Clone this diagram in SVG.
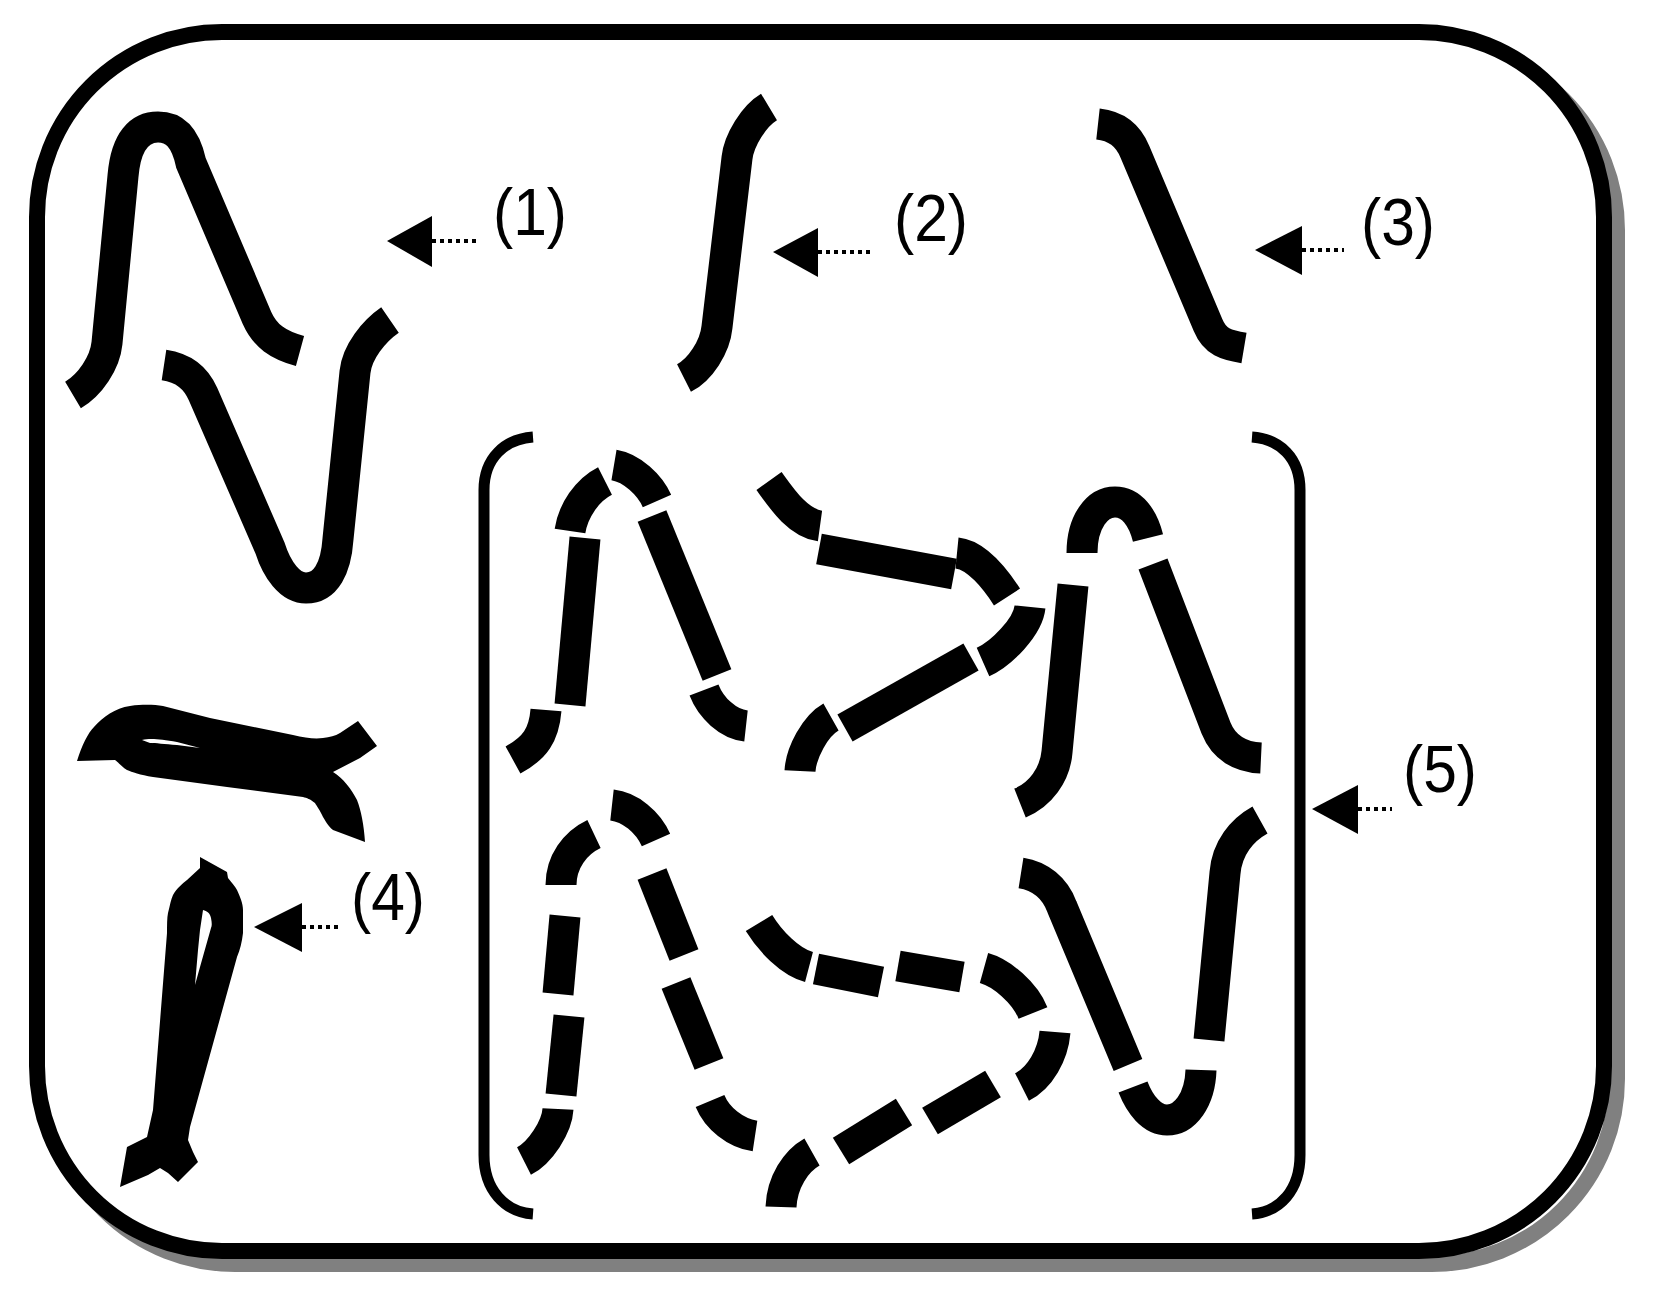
<svg xmlns="http://www.w3.org/2000/svg" width="1653" height="1309" viewBox="0 0 1653 1309">
<style>
.s{fill:none;stroke:#000;stroke-width:31;stroke-linecap:butt;stroke-linejoin:miter}
.br{fill:none;stroke:#000;stroke-width:11;stroke-linecap:butt}
.f{fill:#000;stroke:none}
.w{fill:#fff;stroke:none}
.dot{fill:none;stroke:#000;stroke-width:4;stroke-dasharray:4 4}
.t{font-family:"Liberation Sans",Arial,sans-serif;font-size:66px;fill:#000}
</style>
<rect width="1653" height="1309" fill="#fff"/>
<g id="frame">
<rect x="50" y="45" width="1567" height="1219" rx="185" ry="185" fill="none" stroke="#808080" stroke-width="16"/>
<rect x="37" y="32" width="1567" height="1219" rx="185" ry="185" fill="#fff" stroke="#000" stroke-width="16"/>
</g>
<g id="figure1">
<path class="s" d="M73,395 C90,385 105,363 107,343 L123,176 C126,140 140,127 158,127 C176,127 186,140 191,163 L257,318 C265,336 278,345 300,351"/>
<path class="s" d="M164,365 C184,368 196,378 203,394 L270,548 C277,570 290,588 306,588 C326,588 336,568 338,539 L355,372 C357,352 374,331 390,320"/>
</g>
<g id="figure2">
<path class="s" d="M684,378 C700,370 715,347 717,327 L737,158 C739,140 754,116 769,107"/>
</g>
<g id="figure3">
<path class="s" d="M1098,124 C1116,126 1128,135 1135,152 L1208,325 C1215,342 1226,345 1244,348"/>
</g>
<g id="figure4">
<path class="f" d="M77,761 C82,745 88,733 94,727 C103,717 115,708 130,706 C145,704 155,705 163,706 L210,718 L293,735 C305,738 315,739 323,738 C330,737 335,736 340,733 L358,721 L377,746 L360,758 L333,772 C343,778 352,790 357,800 C361,810 364,825 365,842 L333,830 C328,826 325,820 323,817 C320,810 316,805 315,803 C310,799 307,798 303,797 L227,787 L153,777 C140,775 132,772 127,770 C122,767 118,762 115,760 Z"/>
<path class="w" d="M142,740 C150,738 160,739 177,742 L200,748 L177,745 C165,744 155,743 150,743 Z"/>
<path class="f" d="M200,857 L227,872 L228,878 C232,883 235,886 237,890 C240,897 243,903 243,910 L243,933 C242,942 240,950 237,957 L190,1127 L188,1140 L193,1152 L198,1162 L178,1182 L168,1173 L160,1168 L148,1175 L120,1187 L127,1147 L147,1137 L153,1110 L167,933 C167,925 167,918 168,913 C170,905 171,899 173,895 C177,888 182,884 187,880 L200,868 Z"/>
<path class="w" d="M203,910 C207,911 210,913 211,918 C212,923 212,926 211,928 L200,967 L195,985 L198,950 L200,930 Z"/>
</g>
<g id="figure5">
<path class="br" d="M533,437 C505,439 484,458 484,490 L484,1155 C484,1190 505,1212 533,1214"/>
<path class="br" d="M1252,437 C1280,439 1300,458 1300,490 L1300,1155 C1300,1190 1280,1212 1252,1214"/>
<path class="s" d="M513,760 C535,748 544,735 546,710"/>
<path class="s" d="M570,705 L585,538"/>
<path class="s" d="M570,531 C573,511 587,490 605,481"/>
<path class="s" d="M614,465 C632,468 650,485 657,501"/>
<path class="s" d="M652,516 L717,675"/>
<path class="s" d="M704,690 C711,708 728,724 746,726"/>
<path class="s" d="M769,481 C782,499 798,523 820,526"/>
<path class="s" d="M819,549 L954,574"/>
<path class="s" d="M957,553 C977,555 996,580 1007,597"/>
<path class="s" d="M1030,607 C1028,627 1001,654 983,662"/>
<path class="s" d="M971,657 L845,728"/>
<path class="s" d="M831,717 C815,726 801,753 800,771"/>
<path class="s" d="M1082,553 C1082,522 1097,502 1115,502 C1132,502 1143,518 1148,538"/>
<path class="s" d="M1073,585 L1057,752 C1055,775 1040,795 1020,803"/>
<path class="s" d="M1153,564 L1216,728 C1224,748 1240,757 1261,758"/>
<path class="s" d="M524,1161 C540,1153 557,1127 558,1109"/>
<path class="s" d="M561,1095 L569,1016"/>
<path class="s" d="M558,994 L565,916"/>
<path class="s" d="M561,885 C561,862 575,843 594,834"/>
<path class="s" d="M612,805 C630,807 648,822 656,840"/>
<path class="s" d="M652,874 L684,955"/>
<path class="s" d="M676,983 L709,1064"/>
<path class="s" d="M710,1101 C717,1118 735,1133 755,1136"/>
<path class="s" d="M759,923 C770,941 790,962 809,967"/>
<path class="s" d="M816,969 L881,982"/>
<path class="s" d="M898,966 L962,977"/>
<path class="s" d="M984,968 C1002,973 1025,993 1033,1013"/>
<path class="s" d="M1055,1032 C1053,1055 1040,1078 1022,1087"/>
<path class="s" d="M993,1084 L930,1121"/>
<path class="s" d="M904,1112 L841,1151"/>
<path class="s" d="M812,1152 C796,1161 782,1182 781,1207"/>
<path class="s" d="M1021,873 C1040,876 1055,888 1062,907 L1128,1065"/>
<path class="s" d="M1133,1087 C1140,1105 1152,1120 1167,1120 C1185,1120 1200,1100 1201,1070"/>
<path class="s" d="M1209,1040 L1225,873 C1227,848 1242,830 1260,820"/>
</g>
<g id="connectors">
<polygon class="f" points="387,241 432,216 432,267"/>
<line class="dot" x1="432" y1="241" x2="476" y2="241"/>
<polygon class="f" points="773,252 818,228 818,277"/>
<line class="dot" x1="818" y1="252" x2="874" y2="252"/>
<polygon class="f" points="1255,250 1302,226 1302,275"/>
<line class="dot" x1="1302" y1="250" x2="1344" y2="250"/>
<polygon class="f" points="254,927 302,903 302,952"/>
<line class="dot" x1="302" y1="927" x2="340" y2="927"/>
<polygon class="f" points="1312,809 1358,785 1358,834"/>
<line class="dot" x1="1358" y1="809" x2="1392" y2="809"/>
</g>
<g id="labels">
<text class="t" x="493" y="235" textLength="74" lengthAdjust="spacingAndGlyphs">(1)</text>
<text class="t" x="894" y="241" textLength="74" lengthAdjust="spacingAndGlyphs">(2)</text>
<text class="t" x="1361" y="245" textLength="74" lengthAdjust="spacingAndGlyphs">(3)</text>
<text class="t" x="351" y="920" textLength="74" lengthAdjust="spacingAndGlyphs">(4)</text>
<text class="t" x="1403" y="792" textLength="74" lengthAdjust="spacingAndGlyphs">(5)</text>
</g>
</svg>
